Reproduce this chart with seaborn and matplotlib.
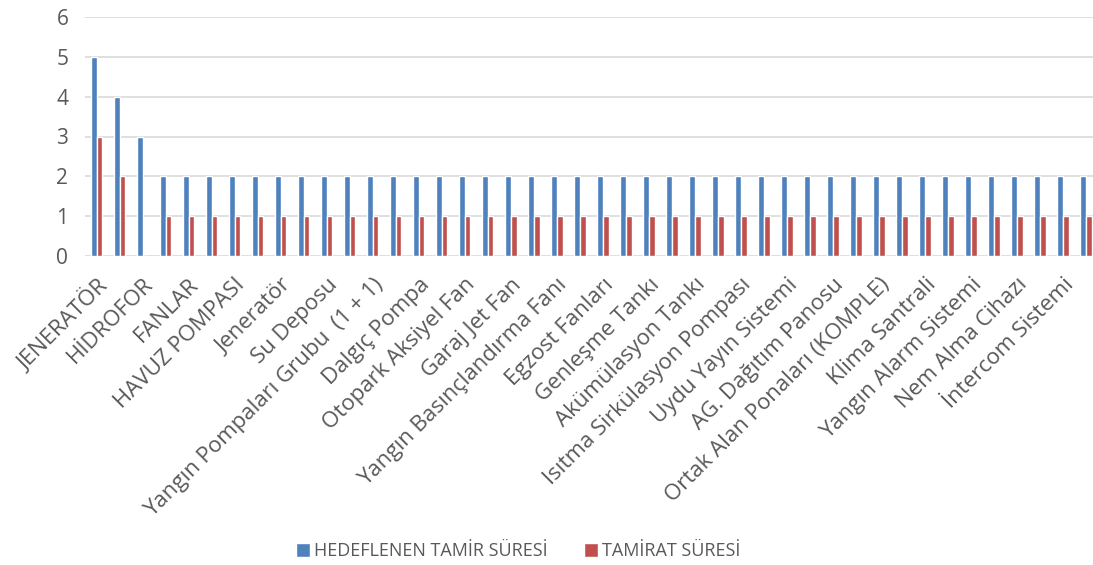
import numpy as np
import pandas as pd
import matplotlib
matplotlib.use("Agg")
import matplotlib.pyplot as plt
import seaborn as sns

# 44 items, only every other name is printed on the axis
shown_names = ["JENERATÖR", "HİDROFOR", "FANLAR", "HAVUZ POMPASI", "Jeneratör",
               "Su Deposu", "Yangın Pompaları Grubu  (1 + 1)", "Dalgıç Pompa",
               "Otopark Aksiyel Fan", "Garaj Jet Fan", "Yangın Basınçlandırma Fanı",
               "Egzost Fanları", "Genleşme Tankı", "Akümülasyon Tankı",
               "Isıtma Sirkülasyon Pompası", "Uydu Yayın Sistemi", "AG. Dağıtım Panosu",
               "Ortak Alan Ponaları (KOMPLE)", "Klima Santrali", "Yangın Alarm Sistemi",
               "Nem Alma Cihazı", "İntercom Sistemi"]
categories = []
for i, name in enumerate(shown_names):
    categories.append(name)
    categories.append(f"Kalem {2 * i + 2}")

hedef = [5, 4, 3] + [2] * 41
tamirat = [3, 2, 0] + [1] * 41
series_names = ["HEDEFLENEN TAMİR SÜRESİ", "TAMİRAT SÜRESİ"]
colors = ["#4F81BD", "#C0504D"]

df = pd.DataFrame({
    "kalem": categories * 2,
    "sure": hedef + tamirat,
    "seri": [series_names[0]] * len(categories) + [series_names[1]] * len(categories),
})

sns.set_style("white")
plt.rcParams["font.family"] = ["Open Sans", "DejaVu Sans"]

fig = plt.figure(figsize=(10.93, 5.65), dpi=100)
ax = fig.add_axes([85 / 1093, 1 - 256 / 565, 1 - 85 / 1093, (256 - 17) / 565])
sns.barplot(data=df, x="kalem", y="sure", hue="seri", order=categories,
            palette=colors, saturation=1, width=0.5, ax=ax, legend=True)

ax.set_xlim(-0.5, len(categories) - 0.7)
ax.set_ylim(0, 6)
ax.set_yticks(range(7))
ax.yaxis.grid(True, color="#D9D9D9", linewidth=1.2)
ax.set_axisbelow(True)
for s in ax.spines.values():
    s.set_visible(False)
ax.tick_params(axis="both", length=0, colors="#595959")
ax.tick_params(axis="y", pad=12, labelsize=15)
ax.tick_params(axis="x", pad=13)

ax.set_xticks(range(0, len(categories), 2))
ax.set_xticklabels(categories[::2], rotation=45, ha="right", rotation_mode="anchor",
                   fontsize=16, color="#595959")
ax.set_xlabel("")
ax.set_ylabel("")

handles, labels = ax.get_legend_handles_labels()
ax.get_legend().remove()
fig.legend(handles, labels, loc="center", bbox_to_anchor=(518 / 1093, 1 - 551 / 565), ncol=2,
           frameon=False, fontsize=13, handlelength=0.8, handleheight=0.8,
           handletextpad=0.2, columnspacing=2.0, labelcolor="#595959")

fig.savefig("out.png", dpi=100)
